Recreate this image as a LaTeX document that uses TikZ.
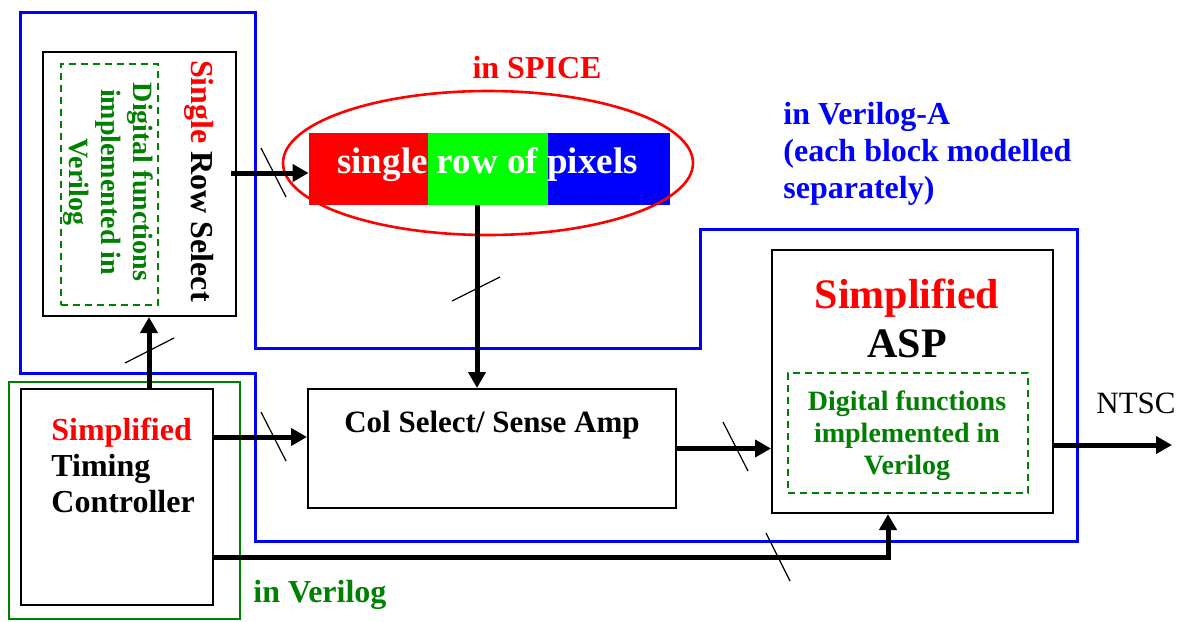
\documentclass[tikz,border=0pt]{standalone}
\usepackage{fontspec}
\setmainfont{Liberation Serif}
\usetikzlibrary{
	arrows.meta,
	calc,
	positioning
}
\definecolor{PixRed}{RGB}{255,0,0}
\definecolor{PixGreen}{RGB}{0,255,0}
\definecolor{PixBlue}{RGB}{0,0,255}
\definecolor{DarkGreen}{RGB}{0,128,0}

\tikzset{
	block/.style={draw=black, line width=1pt, inner sep=0pt},
	dashbox/.style={draw=DarkGreen, line width=0.8pt, dash pattern=on 3.5pt off 2.5pt, inner sep=0pt},
	pix/.style={inner sep=0pt, minimum height=36pt},
	bus/.style={line width=2.5pt, -{Triangle[length=8pt,width=8.5pt]}},
	tick/.style={line width=0.6pt},
	lbl/.style={inner sep=0pt, font=\fontsize{16}{18}\selectfont\bfseries},
	small lbl/.style={inner sep=0pt, font=\fontsize{14}{16}\selectfont\bfseries}
}

\begin{document}
\begin{tikzpicture}[x=0.5pt, y=-0.5pt]
		\useasboundingbox (0,0) rectangle (1183,621);
		
		% 区域框
		\draw[PixBlue, line width=1.5pt] (20,12) -- (255,12) -- (255,348) -- (700,348) -- (700,229) -- (1077,229) -- (1077,541) -- (255,541) -- (255,373) -- (20,373) -- cycle;
		\draw[DarkGreen, line width=1.1pt] (9,382) rectangle (240,619);
		
		% 行选择
		\node[block, minimum width=96.5pt, minimum height=132pt] (rowsel) at (139.5,184) {};
		\node[dashbox, minimum width=48.5pt, minimum height=120.5pt] (rowdig) at (109.5,184.5) {};
		\node[lbl, rotate=-90] (rowtxt) at (199,181) {\textcolor{PixRed}{Single} Row Select};
		\node[small lbl, DarkGreen, rotate=-90, align=center] (rowdigtxt) at (108,182) {Digital functions\\implemented in\\Verilog};
		
		% 时序控制
		\node[block, minimum width=96pt, minimum height=108pt] (timing) at (117,497) {};
		\node[lbl, align=left, anchor=base west] (timtxt) at (51,512) {\textcolor{PixRed}{Simplified}\\Timing\\Controller};
		
		% 列选择
		\node[block, minimum width=184pt, minimum height=59.5pt] (colsel) at (492,448.5) {};
		\node[lbl, font=\fontsize{15.5}{18}\selectfont\bfseries, anchor=base] (coltxt) at (492,432) {Col Select/ Sense Amp};
		
		% ASP
		\node[block, minimum width=140.5pt, minimum height=131.5pt] (asp) at (912.5,381.5) {};
		\node[dashbox, minimum width=120pt, minimum height=60pt] (aspdig) at (908,433) {};
		\node[lbl, font=\fontsize{21}{24.5}\selectfont\bfseries, align=center, anchor=base] (asptxt) at (907,357) {\textcolor{PixRed}{Simplified}\\ASP};
		\node[small lbl, DarkGreen, align=center, anchor=base] (aspdigtxt) at (907,474) {Digital functions\\implemented in\\Verilog};
		
		% 像素行
		\node[pix, fill=PixRed, minimum width=59.5pt] (pixr) at (368.5,169) {};
		\node[pix, fill=PixGreen, minimum width=60pt] (pixg) at (488,169) {};
		\node[pix, fill=PixBlue, minimum width=61pt] (pixb) at (609,169) {};
		\node[lbl, font=\fontsize{18.5}{20}\selectfont\bfseries, white, anchor=base] (pixtxt) at (487.5,173) {single row of pixels};
		\draw[PixRed, line width=1.3pt] (488,163) ellipse [x radius=102.5pt, y radius=36pt];
		
		% 标注
		\node[lbl, PixRed, anchor=base] (spice) at (537,78) {in SPICE};
		\node[lbl, font=\fontsize{16}{18.5}\selectfont\bfseries, PixBlue, align=left, anchor=base west] (vatxt) at (783,198) {in Verilog-A\\(each block modelled\\separately)};
		\node[lbl, DarkGreen, anchor=base west] (vtxt) at (253,602) {in Verilog};
		\node[inner sep=0pt, font=\fontsize{15.5}{18}\selectfont, anchor=base west] (ntsctxt) at (1096,413) {NTSC};
		
		% 连线
		\coordinate (rowout) at ($(rowsel.east |- pixr.west)+(-6,4)$);
		\coordinate (pixdn) at ($(pixg.south)+(-11,0)$);
		\coordinate (timout) at ($(timing.east)+(0,-60)$);
		\coordinate (timup) at ($(timing.north)+(32,0)$);
		\coordinate (timbot) at ($(timing.east)+(0,60)$);
		\coordinate (aspin) at ($(asp.south)+(-24.5,0)$);
		\coordinate (aspout) at ($(asp.east)+(0,63.5)$);
		\coordinate (ntsc) at (1172,445);
		
		\draw[bus] (rowout) -- (rowout -| pixr.west);
		\draw[bus] (pixdn) -- (pixdn |- colsel.north);
		\draw[bus] (timout) -- (timout -| colsel.west);
		\draw[bus] (colsel.east) -- (colsel.east -| asp.west);
		\draw[bus] (aspout) -- (ntsc);
		\draw[bus] (timup) -- (timup |- rowsel.south);
		\draw[bus] (timbot) -- (timbot -| aspin) -- (aspin);
		
		% 总线标记
		\draw[tick] (261,148) -- (286,197);
		\draw[tick] (452,301) -- (500,277);
		\draw[tick] (261,412) -- (286,461);
		\draw[tick] (723,422) -- (748,471);
		\draw[tick] (125,363) -- (174,338);
		\draw[tick] (766,533) -- (790,581);
	\end{tikzpicture}
\end{document}
